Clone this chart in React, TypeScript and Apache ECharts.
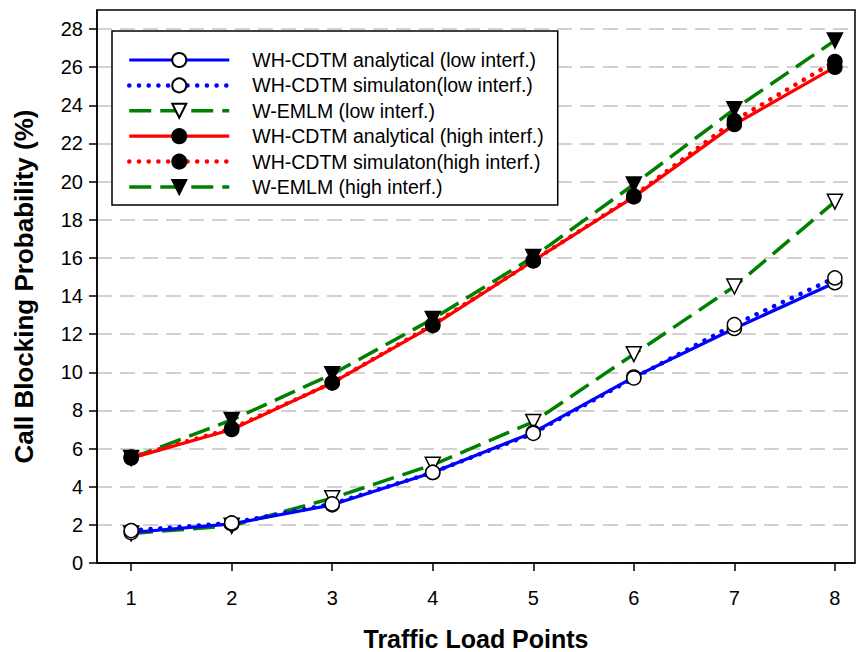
import React, { useEffect, useRef } from "react";
import * as echarts from "echarts";

const xValues = [1, 2, 3, 4, 5, 6, 7, 8];
const yTicks = [0, 2, 4, 6, 8, 10, 12, 14, 16, 18, 20, 22, 24, 26, 28];

const anaLow = [1.6, 2.05, 3.05, 4.75, 6.85, 9.75, 12.3, 14.7];
const simLow = [1.7, 2.1, 3.1, 4.75, 6.8, 9.7, 12.5, 14.95];
const emlmLow = [1.55, 1.95, 3.4, 5.15, 7.4, 10.95, 14.5, 18.95];
const anaHigh = [5.5, 7.0, 9.45, 12.45, 15.85, 19.2, 23.0, 26.0];
const simHigh = [5.55, 7.05, 9.45, 12.5, 15.85, 19.25, 23.2, 26.3];
const emlmHigh = [5.5, 7.5, 9.9, 12.8, 16.05, 19.85, 23.8, 27.4];

const names = [
  "WH-CDTM analytical (low interf.)",
  "WH-CDTM simulaton(low interf.)",
  "W-EMLM (low interf.)",
  "WH-CDTM analytical (high interf.)",
  "WH-CDTM simulaton(high interf.)",
  "W-EMLM (high interf.)",
];

const toPairs = (ys: number[]) => xValues.map((x, i) => [x, ys[i]]);

export default function App() {
  const ref = useRef<HTMLDivElement>(null);
  useEffect(() => {
    if (!ref.current) return;
    const chart = echarts.init(ref.current, undefined, { renderer: "svg" });
    const dotted = { type: [0.1, 9.6] as any, cap: "round" as const, width: 4.5 };
    const dashed = { type: [22, 9] as any, width: 3.5 };
    const solid = { type: "solid" as const, width: 3.2 };
    const hollow = { color: "#ffffff", borderColor: "#000000", borderWidth: 1.5 };
    const filled = { color: "#000000", borderColor: "#000000", borderWidth: 1.5 };
    const mk = (name: string, ys: number[], color: string, ls: any, symbol: string, item: any, z: number, rot = 0) => ({
      name,
      type: "line",
      data: toPairs(ys),
      symbol,
      symbolSize: symbol === "circle" ? 14 : 15,
      symbolRotate: rot,
      showAllSymbol: true,
      lineStyle: { ...ls, color },
      itemStyle: item,
      z,
      emphasis: { disabled: true },
    });
    const GL = 97, GT = 10, GR = 1, GB = 89;
    chart.setOption({
      animation: false,
      backgroundColor: "#ffffff",
      grid: { left: GL, top: GT, right: GR, bottom: GB, containLabel: false, outerBoundsMode: "none" },
      xAxis: {
        type: "value",
        min: 0.66,
        max: 8.2,
        axisLine: { show: true, lineStyle: { color: "#000", width: 1.5 } },
        axisTick: { show: true, inside: false, length: 8, customValues: xValues, lineStyle: { color: "#000", width: 1.5 } },
        axisLabel: {
          customValues: xValues,
          color: "#000",
          fontSize: 20,
          margin: 25,
          fontFamily: "'Liberation Sans Narrow', 'Arial Narrow', 'Liberation Sans', Arial, sans-serif",
        },
        splitLine: { show: false },
        name: "Traffic Load Points",
        nameLocation: "middle",
        nameGap: 63,
        nameTextStyle: {
          color: "#000",
          fontSize: 25,
          fontWeight: "bold",
          fontFamily: "'Liberation Sans Narrow', 'Arial Narrow', 'Liberation Sans', Arial, sans-serif",
        },
      },
      yAxis: {
        type: "value",
        min: 0,
        max: 29,
        interval: 2,
        axisLine: { show: true, lineStyle: { color: "#000", width: 1.5 } },
        axisTick: { show: true, inside: false, length: 8, customValues: yTicks, lineStyle: { color: "#000", width: 1.5 } },
        axisLabel: {
          customValues: yTicks,
          color: "#000",
          fontSize: 20,
          margin: 14,
          fontFamily: "'Liberation Sans', Arial, sans-serif",
        },
        splitLine: { show: true, lineStyle: { color: "#c4c4c4", width: 1.5, type: [15, 8] } },
        name: "Call Blocking Probability (%)",
        nameLocation: "middle",
        nameGap: 60,
        nameTextStyle: {
          color: "#000",
          fontSize: 26,
          fontWeight: "bold",
          fontFamily: "'Liberation Sans', Arial, sans-serif",
        },
      },
      legend: {
        orient: "vertical",
        left: 112,
        top: 31,
        data: names,
        itemWidth: 100,
        itemHeight: 17.5,
        itemGap: 5.4,
        padding: [19, 14, 8, 15],
        backgroundColor: "#ffffff",
        borderColor: "#000000",
        borderWidth: 1.5,
        borderRadius: 0,
        symbolRotate: "inherit",
        selectedMode: false,
        lineStyle: { width: "inherit" },
        textStyle: {
          color: "#000",
          fontSize: 19.5,
          fontFamily: "'Liberation Sans', Arial, sans-serif",
          padding: [0, 0, 0, 18],
        },
      },
      graphic: [
        {
          type: "rect",
          z: 100,
          silent: true,
          shape: { x: GL, y: GT, width: 856 - GL - GR, height: 652 - GT - GB },
          style: { fill: "none", stroke: "#000", lineWidth: 1.5 },
        },
      ],
      series: [
        mk(names[0], anaLow, "#0000ff", solid, "circle", hollow, 3),
        mk(names[1], simLow, "#0000ff", dotted, "circle", hollow, 3),
        mk(names[2], emlmLow, "#008000", dashed, "triangle", hollow, 2, 180),
        mk(names[3], anaHigh, "#ff0000", solid, "circle", filled, 3),
        mk(names[4], simHigh, "#ff0000", dotted, "circle", filled, 3),
        mk(names[5], emlmHigh, "#008000", dashed, "triangle", filled, 2, 180),
      ],
    });
    return () => chart.dispose();
  }, []);
  return (
    <div
      ref={ref}
      style={{ position: "fixed", left: 0, top: 0, width: 856, height: 652, background: "#fff" }}
    />
  );
}
